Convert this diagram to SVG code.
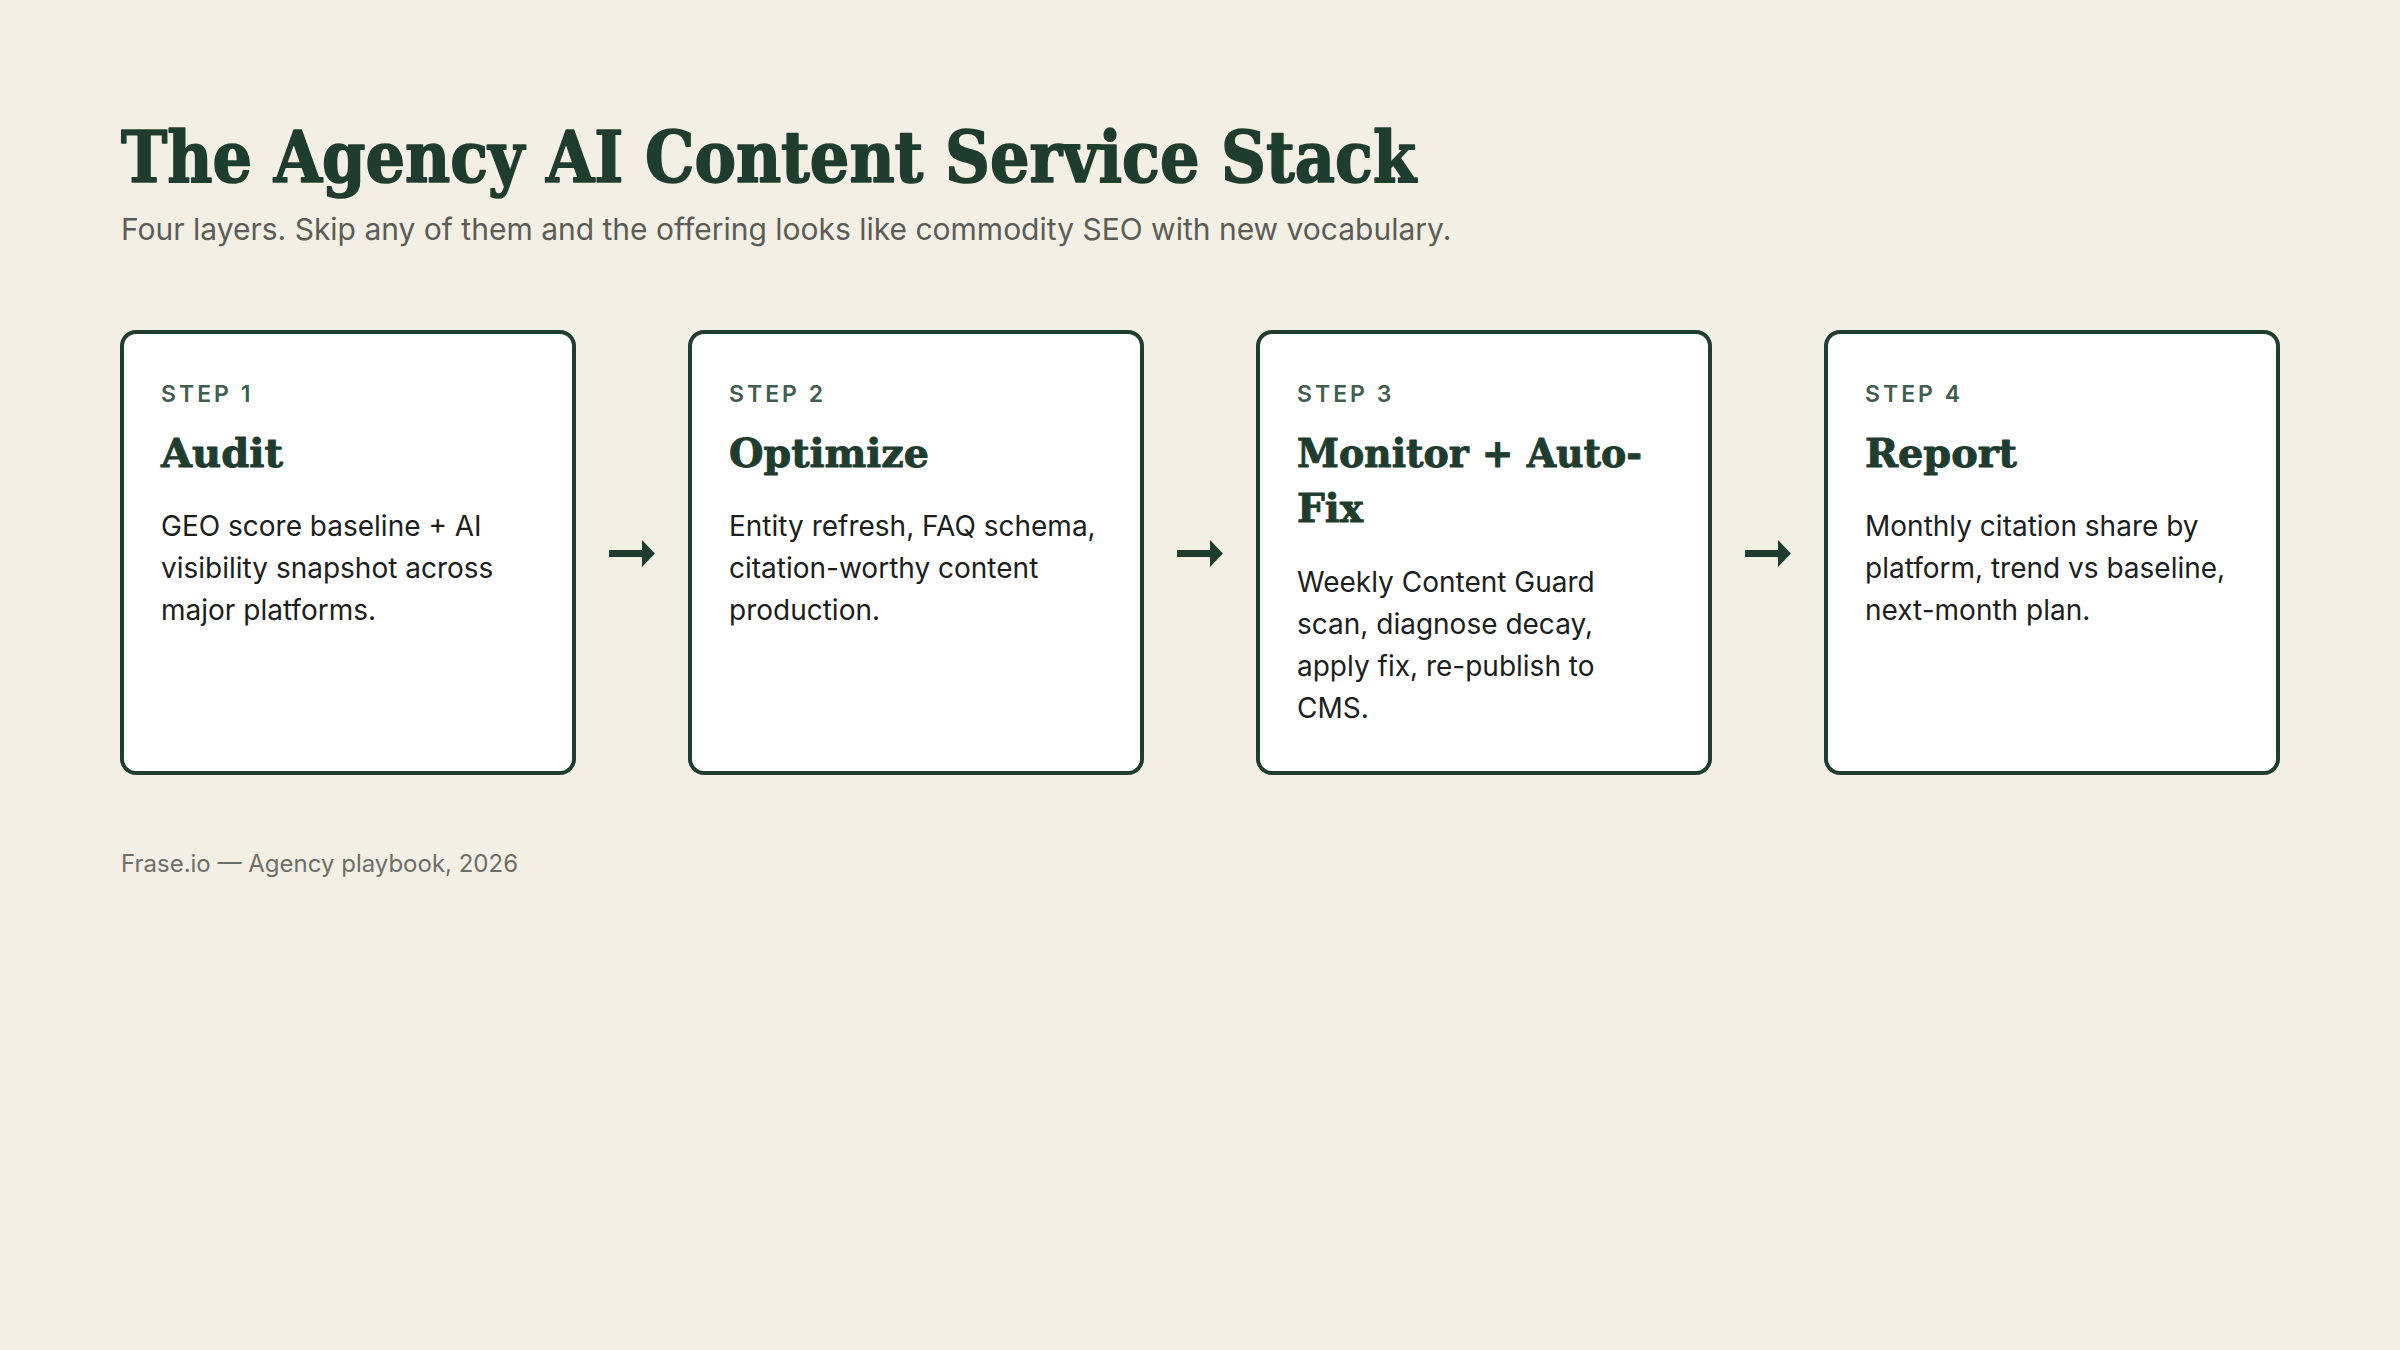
<svg xmlns="http://www.w3.org/2000/svg" width="2400" height="1350" viewBox="0 0 2400 1350">
<style>
.title{font-family:"DejaVu Serif Condensed","DejaVu Serif",serif;font-weight:bold;fill:#1f3d2f;stroke:#1f3d2f;stroke-width:1.6;stroke-linejoin:round}
.sub{font-family:Inter,"Liberation Sans",sans-serif;font-size:30px;fill:#5c5c57}
.card{fill:#ffffff;stroke:#1f3d2f;stroke-width:4}
.step{font-family:Inter,"Liberation Sans",sans-serif;font-size:23px;font-weight:600;letter-spacing:3px;fill:#3f5e4e}
.head{font-family:"DejaVu Serif Condensed","DejaVu Serif",serif;font-weight:bold;font-size:40px;fill:#1f3d2f;stroke:#1f3d2f;stroke-width:0.9;stroke-linejoin:round}
.body{font-family:Inter,"Liberation Sans",sans-serif;font-size:28px;fill:#1b201d}
.foot{font-family:Inter,"Liberation Sans",sans-serif;font-size:24px;fill:#6e6e69}
.arrow{fill:#1f3d2f}
</style>
<rect x="0" y="0" width="2400" height="1350" fill="#f3efe4"/>
<text class="title" x="121" y="182" font-size="71" textLength="1295" lengthAdjust="spacingAndGlyphs">The Agency AI Content Service Stack</text>
<text class="sub" x="121" y="240">Four layers. Skip any of them and the offering looks like commodity SEO with new vocabulary.</text>

<g id="step1">
<rect class="card" x="122" y="332" width="452" height="441" rx="14"/>
<text class="step" x="161" y="402">STEP 1</text>
<text class="head" x="161" y="467" textLength="122" lengthAdjust="spacingAndGlyphs">Audit</text>
<text class="body" x="161" y="536">GEO score baseline + AI</text>
<text class="body" x="161" y="578">visibility snapshot across</text>
<text class="body" x="161" y="620">major platforms.</text>
</g>

<g id="step2">
<rect class="card" x="690" y="332" width="452" height="441" rx="14"/>
<text class="step" x="729" y="402">STEP 2</text>
<text class="head" x="729" y="467" textLength="200" lengthAdjust="spacingAndGlyphs">Optimize</text>
<text class="body" x="729" y="536">Entity refresh, FAQ schema,</text>
<text class="body" x="729" y="578">citation-worthy content</text>
<text class="body" x="729" y="620">production.</text>
</g>

<g id="step3">
<rect class="card" x="1258" y="332" width="452" height="441" rx="14"/>
<text class="step" x="1297" y="402">STEP 3</text>
<text class="head" x="1297" y="467" textLength="345" lengthAdjust="spacingAndGlyphs">Monitor + Auto-</text>
<text class="head" x="1297" y="522" textLength="66" lengthAdjust="spacingAndGlyphs">Fix</text>
<text class="body" x="1297" y="592">Weekly Content Guard</text>
<text class="body" x="1297" y="634">scan, diagnose decay,</text>
<text class="body" x="1297" y="676">apply fix, re-publish to</text>
<text class="body" x="1297" y="718">CMS.</text>
</g>

<g id="step4">
<rect class="card" x="1826" y="332" width="452" height="441" rx="14"/>
<text class="step" x="1865" y="402">STEP 4</text>
<text class="head" x="1865" y="467" textLength="152" lengthAdjust="spacingAndGlyphs">Report</text>
<text class="body" x="1865" y="536">Monthly citation share by</text>
<text class="body" x="1865" y="578">platform, trend vs baseline,</text>
<text class="body" x="1865" y="620">next-month plan.</text>
</g>

<g id="connectors">
<path class="arrow" d="M609 550 H642 V540 L655 553.5 L642 567 V557 H609 Z"/>
<path class="arrow" d="M1177 550 H1210 V540 L1223 553.5 L1210 567 V557 H1177 Z"/>
<path class="arrow" d="M1745 550 H1778 V540 L1791 553.5 L1778 567 V557 H1745 Z"/>
</g>

<text class="foot" x="121" y="872">Frase.io — Agency playbook, 2026</text>
</svg>
